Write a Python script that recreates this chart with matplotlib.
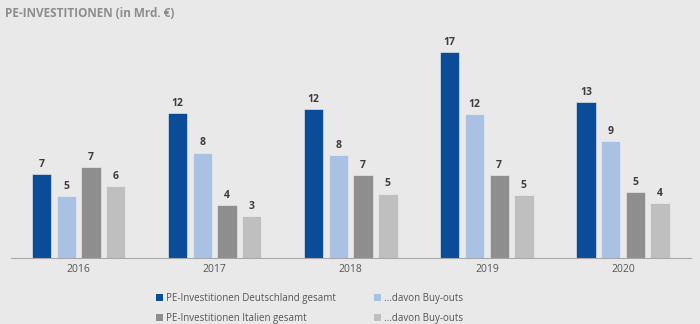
# PE-Investitionen Deutschland vs. Italien, grouped bars

import numpy as np
import matplotlib.pyplot as plt
from matplotlib.patches import Patch

years = ['2016', '2017', '2018', '2019', '2020']
de_total = [6.8, 11.7, 12.0, 16.6, 12.6]
de_buyouts = [5.0, 8.5, 8.3, 11.6, 9.4]
it_total = [7.3, 4.3, 6.7, 6.7, 5.3]
it_buyouts = [5.8, 3.4, 5.2, 5.1, 4.4]

series_labels = ['PE-Investitionen Deutschland gesamt', '...davon Buy-outs',
                 'PE-Investitionen Italien gesamt', '...davon Buy-outs']
colors = ['#0a4c98', '#a9c1e2', '#8e8e8e', '#bfbfbf']
bg = '#e9e9e9'

plt.rcParams['font.family'] = ['Open Sans', 'DejaVu Sans']

fig = plt.figure(figsize=(7, 3.24), dpi=100, facecolor=bg)
ax = fig.add_axes([0.0153, 0.2037, 0.9717, 0.7037])
ax.set_facecolor(bg)

x = np.arange(len(years))
pitch = 0.1815
width = 0.142
handles = []
for i, vals in enumerate([de_total, de_buyouts, it_total, it_buyouts]):
    bars = ax.bar(x + (i - 1.5) * pitch, vals, width, color=colors[i],
                  edgecolor='#f2f2f2', linewidth=0.4)
    for b, v in zip(bars, vals):
        ax.annotate('%.0f' % v, (b.get_x() + b.get_width() / 2, v),
                    xytext=(0, 3), textcoords='offset points',
                    ha='center', va='bottom', fontsize=7.5,
                    fontweight='bold', color='#3c3c3c')
    handles.append(Patch(facecolor=colors[i], edgecolor='none'))

ax.set_xlim(-0.5, 4.5)
ax.set_ylim(0, 18.39)
ax.set_xticks(x)
ax.set_xticklabels(years, fontsize=7.5, color='#555555')
ax.tick_params(axis='x', length=0, pad=4)
ax.set_yticks([])
for s in ['top', 'right', 'left']:
    ax.spines[s].set_visible(False)
ax.spines['bottom'].set_color('#a8a8a8')
ax.spines['bottom'].set_linewidth(0.8)

fig.text(0.007, 0.957, 'PE-INVESTITIONEN (in Mrd. €)', fontsize=8.5,
         fontweight='bold', color='#8c8c8c', ha='left', va='center')

order = [0, 2, 1, 3]
fig.legend([handles[i] for i in order], [series_labels[i] for i in order],
           ncol=2, loc='lower left', bbox_to_anchor=(0.210, -0.027),
           frameon=False, fontsize=7, labelcolor='#555555',
           handlelength=0.7, handleheight=0.7, handletextpad=0.4,
           columnspacing=3.85, labelspacing=0.95)

fig.savefig('out.png', dpi=100, facecolor=bg)
